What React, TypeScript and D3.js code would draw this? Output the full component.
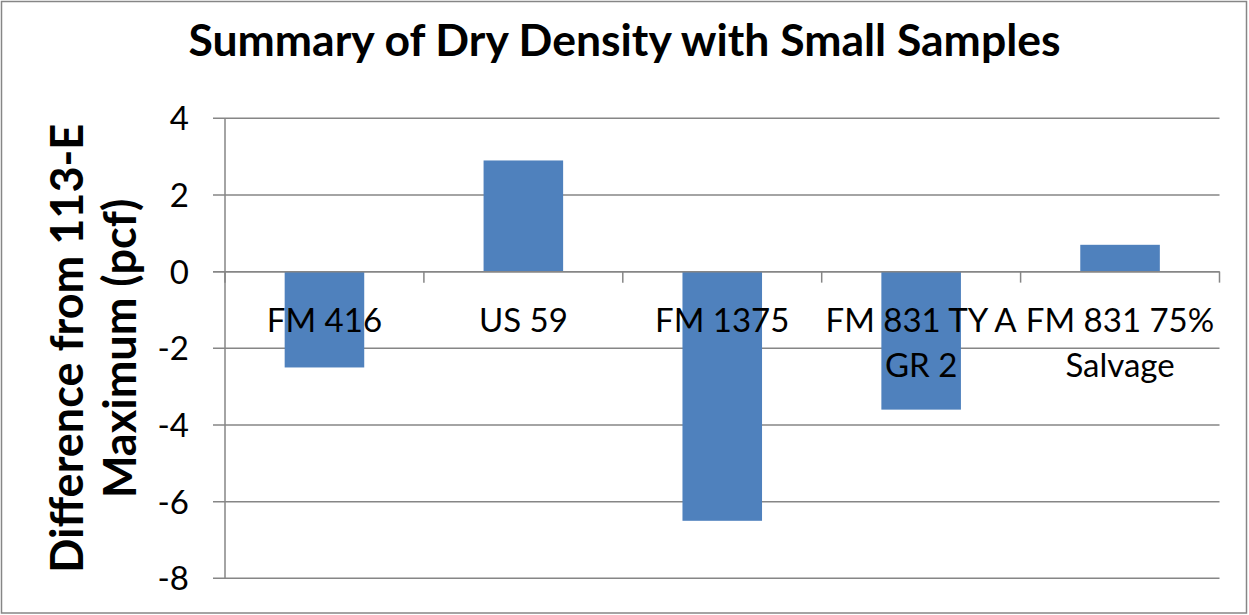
import React from "react";
import * as d3 from "d3";

const categories = ["FM 416", "US 59", "FM 1375", "FM 831 TY A GR 2", "FM 831 75% Salvage"];
const values = [-2.5, 2.9, -6.5, -3.6, 0.7];
const yTicks = [4, 2, 0, -2, -4, -6, -8];
const title = "Summary of Dry Density with Small Samples";
const yTitleLines = ["Difference from 113-E", "Maximum (pcf)"];

const W = 1249;
const H = 615;
const FONT = "Lato, 'Open Sans', sans-serif";
const GRID = "#868686";
const BAR = "#4F81BD";

function wrap(label: string, maxChars: number): string[] {
  const words = label.split(" ");
  const lines: string[] = [];
  let cur = "";
  for (const w of words) {
    const next = cur ? cur + " " + w : w;
    if (next.length > maxChars && cur) {
      lines.push(cur);
      cur = w;
    } else cur = next;
  }
  if (cur) lines.push(cur);
  return lines;
}

export default function App() {
  const x0 = 225, x1 = 1219.5, yTop = 118.3, yBot = 578.3;
  const x = d3.scaleBand<string>().domain(categories).range([x0, x1]).paddingInner(0.6).paddingOuter(0.3);
  const y = d3.scaleLinear().domain([-8, 4]).range([yBot, yTop]);
  const band = (x1 - x0) / categories.length;
  const zeroY = y(0);

  return (
    <div style={{ position: "fixed", left: 0, top: 0 }}>
      <svg width={W} height={H} style={{ display: "block", background: "#fff" }}>
        <rect x={1.5} y={1.5} width={W - 4} height={H - 3.5} fill="#fff" stroke={GRID} strokeWidth={1.5} />
        <text x={W / 2} y={56} textAnchor="middle" fontFamily={FONT} fontWeight={700} fontSize={44.5} fill="#000">
          {title}
        </text>
        {yTicks.map((t) => (
          <g key={t}>
            <line x1={213} x2={x1} y1={y(t)} y2={y(t)} stroke={GRID} strokeWidth={1.5} />
            <text x={189} y={y(t)} dy="0.36em" textAnchor="end" fontFamily={FONT} fontSize={33} fill="#000">
              {t}
            </text>
          </g>
        ))}
        {categories.map((c, i) => {
          const v = values[i];
          return (
            <rect key={c} x={x(c)} width={x.bandwidth()} y={y(Math.max(0, v))} height={Math.abs(y(v) - zeroY)} fill={BAR} />
          );
        })}
        <line x1={x0} x2={x0} y1={yTop} y2={yBot} stroke={GRID} strokeWidth={1.5} />
        <line x1={213} x2={x1} y1={zeroY} y2={zeroY} stroke={GRID} strokeWidth={1.5} />
        {d3.range(categories.length + 1).map((i) => (
          <line key={i} x1={x0 + i * band} x2={x0 + i * band} y1={zeroY} y2={zeroY + 11} stroke={GRID} strokeWidth={1.5} />
        ))}
        {categories.map((c, i) => {
          const lines = wrap(c, 11);
          const cx = (x(c) as number) + x.bandwidth() / 2;
          return (
            <text key={c} textAnchor="middle" fontFamily={FONT} fontSize={33} fill="#000">
              {lines.map((l, j) => (
                <tspan key={j} x={cx} y={332 + j * 45}>
                  {l}
                </tspan>
              ))}
            </text>
          );
        })}
        <g transform={`translate(0, ${(yTop + yBot) / 2}) rotate(-90)`}>
          {yTitleLines.map((l, j) => (
            <text key={j} x={0} y={83 + j * 53} textAnchor="middle" fontFamily={FONT} fontWeight={700} fontSize={45} fill="#000">
              {l}
            </text>
          ))}
        </g>
      </svg>
    </div>
  );
}
